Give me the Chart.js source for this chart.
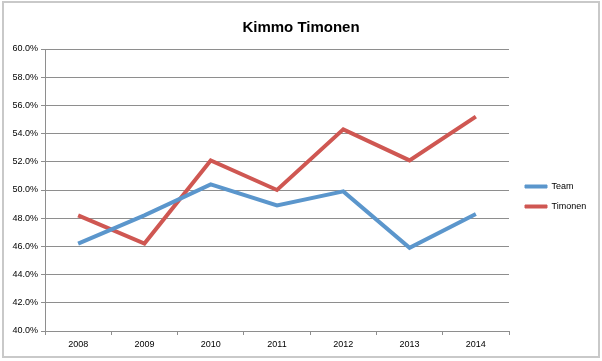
<!DOCTYPE html>
<html>
<head>
<meta charset="utf-8">
<title>Kimmo Timonen</title>
<script src="https://cdn.jsdelivr.net/npm/chart.js@4.4.1/dist/chart.umd.min.js"></script>
<style>
  html, body { margin: 0; padding: 0; background: #fff; }
  #wrap { position: relative; width: 602px; height: 361px; }
  #frame { position: absolute; left: 2px; top: 1px; width: 594px; height: 353px; border: 2px solid #c9c9c9; }
  #chartCanvas { position: absolute; left: 0; top: 0; }
</style>
</head>
<body>
<div id="wrap">
  <div id="frame"></div>
  <canvas id="chartCanvas" width="602" height="361"></canvas>
</div>
<script>
const years = ['2008', '2009', '2010', '2011', '2012', '2013', '2014'];
const teamValues = [46.2, 48.2, 50.4, 48.9, 49.9, 45.9, 48.3];
const timonenValues = [48.2, 46.2, 52.1, 50.0, 54.3, 52.1, 55.2];
const seriesNames = ['Team', 'Timonen'];
const seriesColors = ['#5b96cc', '#cf5752'];

const fontFamily = "'Liberation Sans', Arial, sans-serif";
const gridColor = '#8e8e8e';

document.addEventListener('DOMContentLoaded', () => {
  const ctx = document.getElementById('chartCanvas').getContext('2d');

  // keep the legend column a fixed width so the plot ends where the reference does,
  // then nudge it to where the reference legend sits
  const legendPlacement = {
    id: 'legendPlacement',
    beforeLayout(chart) {
      const lg = chart.legend;
      if (lg && !lg._fixed) {
        const fit = lg.fit;
        lg.fit = function () {
          fit.call(this);
          this.width = 93;
        };
        lg._fixed = true;
      }
    },
    afterLayout(chart) {
      const lg = chart.legend;
      if (!lg) return;
      lg.left += 5;
      lg.top += 16;
      lg.bottom += 16;
    }
  };

  new Chart(ctx, {
    type: 'line',
    data: {
      labels: years,
      datasets: [{
        label: seriesNames[0],
        data: teamValues,
        borderColor: seriesColors[0],
        backgroundColor: seriesColors[0],
        borderWidth: 4,
        pointRadius: 0,
        tension: 0,
        fill: false
      }, {
        label: seriesNames[1],
        data: timonenValues,
        borderColor: seriesColors[1],
        backgroundColor: seriesColors[1],
        borderWidth: 4,
        pointRadius: 0,
        tension: 0,
        fill: false
      }]
    },
    options: {
      responsive: false,
      animation: false,
      layout: { padding: 0 },
      plugins: {
        title: {
          display: true,
          text: 'Kimmo Timonen',
          color: '#000',
          font: { family: fontFamily, size: 15, weight: 'bold' },
          padding: { top: 19, bottom: 12 }
        },
        legend: {
          position: 'right',
          align: 'center',
          labels: {
            color: '#000',
            font: { family: fontFamily, size: 9 },
            boxWidth: 22,
            boxHeight: 3,
            padding: 11,
            generateLabels(chart) {
              return chart.data.datasets.map((ds, i) => ({
                text: ds.label,
                fillStyle: ds.borderColor,
                strokeStyle: ds.borderColor,
                lineWidth: 1,
                datasetIndex: i
              }));
            }
          }
        },
        tooltip: { enabled: false }
      },
      scales: {
        x: {
          offset: true,
          grid: {
            offset: true,
            drawOnChartArea: false,
            drawTicks: true,
            tickLength: 4,
            color: gridColor
          },
          border: { color: gridColor },
          ticks: {
            color: '#000',
            font: { family: fontFamily, size: 9 },
            padding: 4,
            maxRotation: 0
          },
          afterFit(scale) { scale.height = 30; }
        },
        y: {
          min: 40,
          max: 60,
          grid: { color: gridColor, tickLength: 4 },
          border: { color: gridColor },
          ticks: {
            stepSize: 2,
            color: '#000',
            font: { family: fontFamily, size: 9 },
            padding: 3,
            callback: (v) => v.toFixed(1) + '%'
          },
          afterFit(scale) { scale.width = 45; }
        }
      }
    },
    plugins: [legendPlacement]
  });
});
</script>
</body>
</html>
